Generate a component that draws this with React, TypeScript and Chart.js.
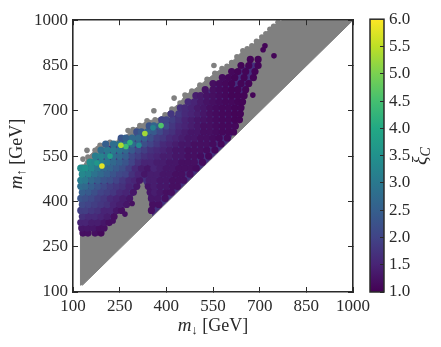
import React, { useEffect, useRef } from "react";
import { Chart, registerables } from "chart.js";

Chart.register(...registerables);

const SERIF = '"Liberation Serif", serif';
const INK = "#2a2a2a";
const GREY = "#808080";
const UNDER = "#44307d";

const tickStep = 150;
const axisMin = 100;
const axisMax = 1000;
const barMin = 1;
const barMax = 6;

// outline of the grey band [m_down, m_up]
const greyOutline = [
  [125, 122], [124, 300], [124, 500], [132, 514], [148, 547], [171, 569], [187, 586], [219, 596], [251, 602],
  [293, 638], [315, 651], [338, 667], [364, 670], [396, 687], [418, 706], [444, 726], [460, 752], [482, 765],
  [508, 785], [531, 804], [556, 824], [579, 840], [595, 847], [627, 879], [646, 899], [675, 915], [707, 944],
  [733, 970], [759, 993], [775, 1000], [1000, 1000], [130, 122],
];

// loose grey points poking out of the band [m_down, m_up]
const greyDots = [
  [132, 514], [132, 540], [145, 569], [148, 547], [171, 569], [187, 586], [180, 575], [219, 596], [251, 602], [205, 590],
  [277, 635], [293, 638], [315, 651], [338, 667], [360, 700], [364, 670], [396, 687], [418, 706], [425, 742], [444, 726],
  [460, 752], [482, 765], [508, 785], [531, 804], [553, 850], [556, 824], [579, 840], [595, 847], [627, 879], [646, 899],
  [675, 915], [707, 944], [733, 970], [759, 993], [781, 987], [610, 860], [660, 905], [690, 930], [720, 955], [745, 980],
];

// outlines under the coloured dots [m_down, m_up]
const colouredOutline = [
  [128, 300], [190, 305], [232, 350], [270, 385], [300, 430], [322, 472], [338, 440], [355, 351], [606, 603], [625, 655],
  [640, 720], [660, 770], [690, 830], [695, 860], [670, 860], [630, 830], [590, 815], [550, 780], [518, 755], [486, 730],
  [421, 680], [380, 660], [331, 632], [283, 612], [238, 596], [196, 572], [164, 535], [132, 500],
];

// rows: [m_up, m_down values, xi_C values]
const armLower: [number, number[], number[]][] = [
  [295, [132, 148, 171, 190], [1.2, 1.2, 1.2, 1.1]],
  [312, [128, 145, 165, 185, 200], [1.3, 1.3, 1.3, 1.2, 1.2]],
  [330, [125, 140, 160, 180, 200, 216], [1.5, 1.5, 1.4, 1.4, 1.3, 1.2]],
  [350, [130, 150, 170, 190, 210, 232], [1.7, 1.6, 1.6, 1.5, 1.4, 1.2]],
  [370, [125, 140, 160, 180, 200, 220, 240, 256, 352], [1.9, 1.9, 1.8, 1.7, 1.5, 1.5, 1.3, 1.2, 1.2]],
  [390, [130, 150, 170, 190, 210, 230, 250, 272, 356, 376], [2.1, 2.0, 1.9, 1.8, 1.7, 1.5, 1.4, 1.3, 1.2, 1.2]],
  [410, [125, 140, 160, 180, 200, 220, 240, 260, 282, 352, 372, 396], [2.3, 2.2, 2.1, 1.9, 1.8, 1.6, 1.5, 1.4, 1.3, 1.3, 1.3, 1.2]],
  [430, [130, 150, 170, 190, 210, 230, 250, 270, 294, 348, 362, 380, 400, 416], [2.5, 2.4, 2.2, 2.0, 1.9, 1.8, 1.6, 1.5, 1.3, 1.3, 1.4, 1.3, 1.2, 1.2]],
  [450, [125, 140, 160, 180, 200, 220, 240, 260, 280, 305, 342, 360, 380, 400, 420, 436], [2.8, 2.7, 2.5, 2.3, 2.1, 1.9, 1.8, 1.7, 1.5, 1.3, 1.3, 1.4, 1.3, 1.3, 1.2, 1.2]],
];

const armMiddle: [number, number[], number[]][] = [
  [470, [125, 140, 160, 180, 200, 220, 240, 260, 280, 298, 314, 345, 360, 380, 400, 420, 440, 456], [3.1, 3.0, 2.7, 2.5, 2.3, 2.2, 2.0, 1.8, 1.6, 1.5, 1.3, 1.4, 1.4, 1.3, 1.3, 1.2, 1.2, 1.2]],
  [490, [130, 150, 170, 190, 210, 230, 250, 270, 290, 310, 330, 350, 370, 390, 410, 430, 450, 476], [3.3, 3.2, 2.9, 2.7, 2.5, 2.3, 2.1, 2.0, 1.7, 1.5, 1.3, 1.4, 1.4, 1.3, 1.3, 1.2, 1.2, 1.2]],
  [510, [125, 140, 160, 180, 200, 220, 240, 260, 280, 300, 320, 340, 360, 380, 400, 420, 440, 460, 480, 496], [3.4, 3.5, 3.3, 3.0, 2.7, 2.6, 2.4, 2.2, 1.9, 1.6, 1.4, 1.3, 1.5, 1.4, 1.3, 1.3, 1.2, 1.2, 1.2, 1.15]],
  [530, [155, 170, 190, 210, 230, 250, 270, 290, 310, 330, 350, 370, 390, 410, 430, 450, 470, 490, 516], [3.4, 3.3, 3.1, 2.9, 2.7, 2.5, 2.3, 2.0, 1.7, 1.5, 1.5, 1.4, 1.4, 1.3, 1.3, 1.2, 1.2, 1.2, 1.15]],
  [550, [172, 190, 210, 230, 250, 270, 290, 310, 330, 350, 370, 390, 410, 430, 450, 470, 490, 510, 536], [3.1, 3.2, 3.0, 2.8, 2.7, 2.5, 2.1, 1.9, 1.7, 1.6, 1.5, 1.4, 1.4, 1.3, 1.3, 1.2, 1.2, 1.15, 1.1]],
  [570, [190, 210, 230, 250, 270, 290, 310, 330, 350, 370, 390, 410, 430, 450, 470, 490, 510, 530, 556], [2.8, 3.0, 3.0, 2.9, 2.7, 2.4, 2.1, 1.9, 1.7, 1.6, 1.5, 1.4, 1.3, 1.3, 1.2, 1.2, 1.2, 1.15, 1.1]],
  [590, [205, 230, 250, 270, 290, 310, 330, 350, 370, 390, 410, 430, 450, 470, 490, 510, 530, 550, 576], [2.5, 2.8, 2.9, 2.9, 2.8, 2.5, 2.2, 2.0, 1.8, 1.6, 1.5, 1.4, 1.3, 1.3, 1.2, 1.2, 1.2, 1.15, 1.1]],
  [610, [255, 270, 290, 310, 330, 350, 370, 390, 410, 430, 450, 470, 490, 510, 530, 550, 570, 596], [2.3, 2.5, 2.7, 2.7, 2.5, 2.2, 1.9, 1.8, 1.6, 1.5, 1.4, 1.3, 1.3, 1.2, 1.2, 1.15, 1.1, 1.1]],
];

const armUpper: [number, number[], number[]][] = [
  [630, [305, 320, 340, 360, 380, 400, 420, 440, 460, 480, 500, 520, 540, 560, 580, 600, 616], [2.2, 2.4, 2.6, 2.4, 2.1, 1.8, 1.7, 1.5, 1.4, 1.3, 1.3, 1.2, 1.2, 1.15, 1.1, 1.1, 1.1]],
  [650, [345, 360, 380, 400, 420, 440, 460, 480, 500, 520, 540, 560, 580, 600, 622], [2.3, 2.6, 2.4, 2.1, 1.8, 1.6, 1.5, 1.4, 1.3, 1.2, 1.2, 1.15, 1.1, 1.1, 1.1]],
  [670, [385, 400, 420, 440, 460, 480, 500, 520, 540, 560, 580, 600, 620, 635], [2.0, 2.0, 1.9, 1.7, 1.5, 1.4, 1.3, 1.25, 1.2, 1.15, 1.1, 1.1, 1.05, 1.05]],
  [690, [415, 440, 460, 480, 500, 520, 540, 560, 580, 600, 620, 638], [1.8, 1.8, 1.6, 1.5, 1.4, 1.3, 1.2, 1.15, 1.1, 1.1, 1.05, 1.05]],
  [710, [445, 460, 480, 500, 520, 540, 560, 580, 600, 620, 640], [1.7, 1.6, 1.5, 1.35, 1.3, 1.2, 1.15, 1.1, 1.1, 1.05, 1.05]],
  [730, [470, 490, 510, 530, 550, 570, 590, 610, 630, 645], [1.6, 1.5, 1.35, 1.25, 1.2, 1.15, 1.1, 1.1, 1.05, 1.05]],
  [750, [495, 510, 530, 550, 570, 590, 610, 630, 650], [1.4, 1.35, 1.25, 1.2, 1.15, 1.1, 1.05, 1.05, 1.05]],
  [770, [525, 550, 570, 590, 610, 630, 655], [1.25, 1.2, 1.15, 1.1, 1.05, 1.05, 1.05]],
  [790, [550, 570, 590, 610, 640, 665], [1.2, 1.15, 1.1, 1.05, 1.05, 1.05]],
  [810, [580, 600, 620, 650, 680], [1.15, 1.1, 1.05, 1.05, 1.05]],
  [830, [610, 630, 655, 685], [1.1, 1.05, 1.05, 1.05]],
  [850, [640, 665, 695], [1.05, 1.05, 1.05]],
  [870, [670, 695], [1.05, 1.05]],
];

// separated dots [m_down, m_up, xi_C]
const strayDots = [
  [717, 915, 1.05], [711, 902, 1.05], [746, 882, 1.05], [678, 752, 1.05], [267, 358, 1.2], [229, 335, 1.2], [290, 393, 1.2],
];

// the brightest dots [m_down, m_up, xi_C]
const brightDots = [
  [357, 644, 3.2], [312, 586, 3.3], [177, 527, 3.6], [219, 550, 3.8], [283, 595, 4.2], [270, 582, 4.4],
  [383, 651, 4.6], [331, 625, 5.3], [254, 586, 5.4], [193, 517, 5.8],
];

const viridisStops = [
  "#440154", "#482475", "#414487", "#355f8d", "#2a788e", "#21918c", "#22a884", "#44bf70", "#7ad151", "#bddf26", "#fde725",
];

function hexRgb(h: string) {
  return [1, 3, 5].map((i) => parseInt(h.slice(i, i + 2), 16));
}

function viridis(xi: number) {
  const t = Math.min(1, Math.max(0, (xi - barMin) / (barMax - barMin))) * (viridisStops.length - 1);
  const i = Math.min(viridisStops.length - 2, Math.floor(t));
  const a = hexRgb(viridisStops[i]);
  const b = hexRgb(viridisStops[i + 1]);
  const f = t - i;
  return `rgb(${a.map((v, k) => Math.round(v + (b[k] - v) * f)).join(",")})`;
}

function rowsToPoints(rows: [number, number[], number[]][]) {
  const out: { x: number; y: number; xi: number }[] = [];
  rows.forEach(([up, downs, xis]) => downs.forEach((d, i) => out.push({ x: d, y: up, xi: xis[i] })));
  return out;
}

function tripletsToPoints(list: number[][]) {
  return list.map(([x, y, xi]) => ({ x, y, xi }));
}

function colouredSet(data: { x: number; y: number; xi: number }[], radius: number, order: number) {
  return {
    type: "scatter" as const,
    order,
    data,
    pointRadius: radius,
    pointHoverRadius: radius,
    borderWidth: 0,
    pointBorderWidth: 0,
    pointBackgroundColor: (c: any) => viridis(c.raw?.xi ?? 1),
    backgroundColor: "#46277a",
    showLine: false,
  };
}

const edgeAxis = (position: string, horizontal: boolean) => ({
  type: "linear",
  position,
  min: axisMin,
  max: axisMax,
  ticks: { display: false, stepSize: tickStep, autoSkip: false },
  grid: { drawOnChartArea: false, drawTicks: true, tickLength: -5, color: INK, lineWidth: 1, z: 1 },
  border: { display: true, color: INK, width: 1.6, z: 2 },
  afterFit: (s: any) => {
    if (horizontal) s.height = 0;
    else s.width = 0;
  },
});

function drawRun(ctx: CanvasRenderingContext2D, parts: [string, string, number][], x: number, y: number) {
  let cx = x;
  parts.forEach(([text, font, dy]) => {
    ctx.font = font;
    ctx.fillText(text, cx, y + dy);
    cx += ctx.measureText(text).width;
  });
}

function runWidth(ctx: CanvasRenderingContext2D, parts: [string, string, number][]) {
  let w = 0;
  parts.forEach(([text, font]) => {
    ctx.font = font;
    w += ctx.measureText(text).width;
  });
  return w;
}

const labelsPlugin = {
  id: "mathLabels",
  afterDraw(chart: any) {
    const ctx: CanvasRenderingContext2D = chart.ctx;
    ctx.save();
    ctx.fillStyle = INK;
    ctx.textBaseline = "alphabetic";
    ctx.textAlign = "left";
    const it = `italic 19px ${SERIF}`;
    const rm = `18px ${SERIF}`;
    const sub = `13px ${SERIF}`;
    const xParts: [string, string, number][] = [["m", it, 0], ["↓", sub, 3], [" [GeV]", rm, 0]];
    drawRun(ctx, xParts, 213 - runWidth(ctx, xParts) / 2, 331);
    const yParts: [string, string, number][] = [["m", it, 0], ["↑", sub, 3], [" [GeV]", rm, 0]];
    ctx.save();
    ctx.translate(22, 154 + runWidth(ctx, yParts) / 2);
    ctx.rotate(-Math.PI / 2);
    drawRun(ctx, yParts, 0, 0);
    ctx.restore();
    ctx.save();
    ctx.translate(427, 165);
    ctx.rotate(-Math.PI / 2);
    drawRun(ctx, [["ξ", `italic 20px ${SERIF}`, 0], ["C", `italic 14px ${SERIF}`, 3]], 0, 0);
    ctx.restore();
    ctx.restore();
  },
};

const outlinePlugin = {
  id: "barOutline",
  afterDraw(chart: any) {
    const { ctx, chartArea: a } = chart;
    ctx.save();
    ctx.strokeStyle = INK;
    ctx.lineWidth = 1.5;
    ctx.strokeRect(a.left, a.top, a.right - a.left, a.bottom - a.top);
    ctx.restore();
  },
};

export default function App() {
  const mainRef = useRef<HTMLCanvasElement>(null);
  const barRef = useRef<HTMLCanvasElement>(null);

  useEffect(() => {
    const main = new Chart(mainRef.current!, {
      type: "scatter",
      data: {
        datasets: [
          {
            order: 8,
            data: greyOutline.map(([x, y]) => ({ x, y })),
            showLine: true,
            fill: "shape",
            tension: 0,
            borderColor: GREY,
            borderWidth: 1,
            backgroundColor: GREY,
            pointRadius: 0,
          } as any,
          {
            order: 7,
            data: greyDots.map(([x, y]) => ({ x, y })),
            backgroundColor: GREY,
            pointBackgroundColor: GREY,
            pointRadius: 2.8,
            borderWidth: 0,
            pointBorderWidth: 0,
          } as any,
          {
            order: 6,
            data: colouredOutline.map(([x, y]) => ({ x, y })),
            showLine: true,
            fill: "shape",
            tension: 0,
            borderWidth: 0,
            borderColor: UNDER,
            backgroundColor: UNDER,
            pointRadius: 0,
          } as any,
          colouredSet(rowsToPoints(armLower), 3.6, 5) as any,
          colouredSet(rowsToPoints(armUpper), 3.6, 4) as any,
          colouredSet(rowsToPoints(armMiddle), 3.6, 3) as any,
          colouredSet(tripletsToPoints(strayDots), 2.8, 2) as any,
          colouredSet(tripletsToPoints(brightDots), 2.8, 1) as any,
        ],
      },
      options: {
        animation: false,
        responsive: false,
        layout: { autoPadding: false, padding: { left: 0, right: 88, top: 16, bottom: 0 } },
        plugins: { legend: { display: false }, tooltip: { enabled: false } },
        scales: {
          x: {
            type: "linear",
            position: "bottom",
            min: axisMin,
            max: axisMax,
            ticks: {
              stepSize: tickStep,
              autoSkip: false,
              maxRotation: 0,
              padding: 9,
              color: INK,
              font: { family: SERIF, size: 17 },
              callback: (v: any) => String(v),
            },
            grid: { drawOnChartArea: false, drawTicks: true, tickLength: -5, color: INK, lineWidth: 1, z: 1 },
            border: { display: true, color: INK, width: 1.6, z: 2 },
            afterFit: (s: any) => {
              s.height = 55;
            },
          },
          y: {
            type: "linear",
            position: "left",
            min: axisMin,
            max: axisMax,
            ticks: {
              stepSize: tickStep,
              autoSkip: false,
              padding: 10,
              color: INK,
              font: { family: SERIF, size: 17 },
              callback: (v: any) => String(v),
            },
            grid: { drawOnChartArea: false, drawTicks: true, tickLength: -5, color: INK, lineWidth: 1, z: 1 },
            border: { display: true, color: INK, width: 1.6, z: 2 },
            afterFit: (s: any) => {
              s.width = 73;
            },
          },
          xTop: edgeAxis("top", true),
          yRight: edgeAxis("right", false),
        } as any,
      },
      plugins: [labelsPlugin],
    });

    const bar = new Chart(barRef.current!, {
      type: "bar",
      data: {
        labels: ["xi"],
        datasets: [
          {
            data: [[barMin, barMax]],
            barPercentage: 1,
            categoryPercentage: 1,
            borderWidth: 0,
            backgroundColor: (c: any) => {
              const area = c.chart.chartArea;
              if (!area) return viridisStops[0];
              const g = c.chart.ctx.createLinearGradient(0, area.bottom, 0, area.top);
              viridisStops.forEach((col, i) => g.addColorStop(i / (viridisStops.length - 1), col));
              return g;
            },
          } as any,
        ],
      },
      options: {
        animation: false,
        responsive: false,
        layout: { autoPadding: false, padding: { left: 10, right: 0, top: 16, bottom: 55 } },
        plugins: { legend: { display: false }, tooltip: { enabled: false } },
        scales: {
          x: {
            display: false,
          },
          y: {
            type: "linear",
            position: "right",
            min: barMin,
            max: barMax,
            ticks: {
              stepSize: 0.5,
              autoSkip: false,
              padding: 9,
              color: INK,
              font: { family: SERIF, size: 17 },
              callback: (v: any) => Number(v).toFixed(1),
            },
            grid: { drawOnChartArea: false, drawTicks: true, tickLength: -4, color: INK, lineWidth: 1, z: 1 },
            border: { display: false },
            afterFit: (s: any) => {
              s.width = 57;
            },
          },
        } as any,
      },
      plugins: [outlinePlugin],
    });

    return () => {
      main.destroy();
      bar.destroy();
    };
  }, []);

  return (
    <div style={{ position: "absolute", left: 0, top: 0, width: 441, height: 347 }}>
      <canvas ref={mainRef} width={441} height={347} style={{ position: "absolute", left: 0, top: 0 }} />
      <canvas ref={barRef} width={81} height={347} style={{ position: "absolute", left: 360, top: 0 }} />
    </div>
  );
}
